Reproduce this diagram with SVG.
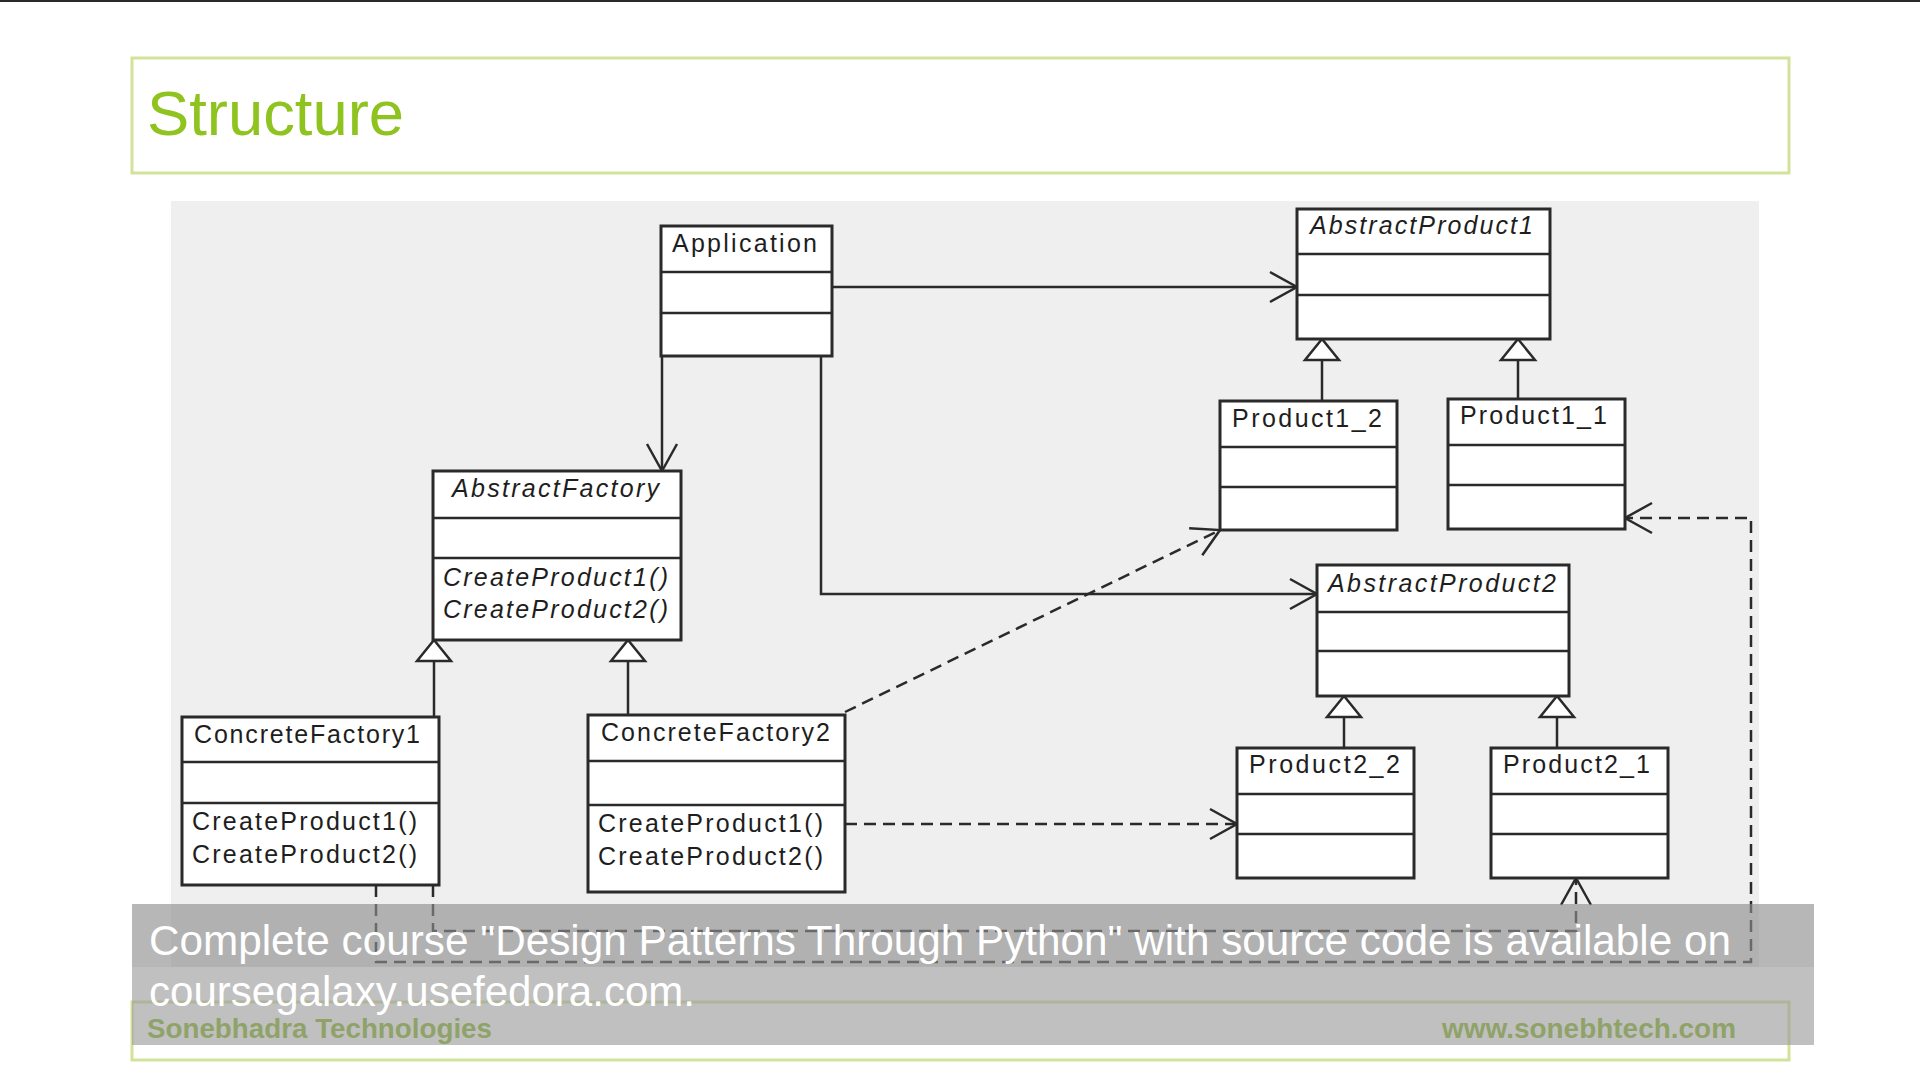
<svg xmlns="http://www.w3.org/2000/svg" width="1920" height="1080" viewBox="0 0 1920 1080">
<style>
.box{fill:#ffffff;stroke:#2a2a2a;stroke-width:3}
.div{stroke:#2a2a2a;stroke-width:2.5}
.lbl{font-family:"Liberation Sans",Arial,sans-serif;font-size:25px;fill:#1e1e1e}
.it{font-style:italic}
.con{fill:none;stroke:#2a2a2a;stroke-width:2.5}
.dash{stroke-dasharray:12 7}
.tri{fill:#ffffff;stroke:#2a2a2a;stroke-width:2.5}
.frame{fill:none;stroke:#d3e29a;stroke-width:3}
</style>
<defs>
<marker id="open" markerUnits="userSpaceOnUse" markerWidth="40" markerHeight="40" viewBox="-32 -20 36 40" refX="0" refY="0" orient="auto">
<path d="M-27,-15 L0,0 L-27,15" fill="none" stroke="#2a2a2a" stroke-width="2.5"/>
</marker>
</defs>
<rect x="0" y="0" width="1920" height="1080" fill="#ffffff"/>
<rect x="0" y="0" width="1920" height="2" fill="#2a2a2a"/>
<g id="title">
<rect class="frame" x="132" y="58" width="1657" height="115"/>
<text x="147" y="135" font-family="Liberation Sans,Arial,sans-serif" font-size="63" fill="#8fc31f" textLength="257" lengthAdjust="spacingAndGlyphs">Structure</text>
</g>
<rect id="diagram-bg" x="171" y="201" width="1588" height="766" fill="#efeff0"/>
<g id="connectors">
<path class="con" d="M832,287 L1297,287" marker-end="url(#open)"/>
<path class="con" d="M662,356 L662,471" marker-end="url(#open)"/>
<path class="con" d="M821,356 L821,594 L1317,594" marker-end="url(#open)"/>
<path class="con" d="M434,717 L434,661"/>
<polygon class="tri" points="434,640 417,661 451,661"/>
<path class="con" d="M628,715 L628,661"/>
<polygon class="tri" points="628,640 611,661 645,661"/>
<path class="con" d="M1322,401 L1322,360"/>
<polygon class="tri" points="1322,339 1305,360 1339,360"/>
<path class="con" d="M1518,399 L1518,360"/>
<polygon class="tri" points="1518,339 1501,360 1535,360"/>
<path class="con" d="M1344,748 L1344,717"/>
<polygon class="tri" points="1344,696 1327,717 1361,717"/>
<path class="con" d="M1557,748 L1557,717"/>
<polygon class="tri" points="1557,696 1540,717 1574,717"/>
<path class="con dash" d="M845,712 L1220,530" marker-end="url(#open)"/>
<path class="con dash" d="M845,824 L1237,824" marker-end="url(#open)"/>
<path class="con dash" d="M376,885 L376,962 L1751,962 L1751,518 L1625,518" marker-end="url(#open)"/>
<path class="con dash" d="M433,885 L433,931 L1576,931 L1576,878" marker-end="url(#open)"/>
</g>
<g id="Application">
<rect class="box" x="661" y="226" width="171" height="130"/>
<line class="div" x1="661" y1="272" x2="832" y2="272"/>
<line class="div" x1="661" y1="313" x2="832" y2="313"/>
<text class="lbl" x="672" y="252" textLength="145" lengthAdjust="spacing">Application</text>
</g>
<g id="AbstractFactory">
<rect class="box" x="433" y="471" width="248" height="169"/>
<line class="div" x1="433" y1="518" x2="681" y2="518"/>
<line class="div" x1="433" y1="558" x2="681" y2="558"/>
<text class="lbl it" x="452" y="497" textLength="207" lengthAdjust="spacing">AbstractFactory</text>
<text class="lbl it" x="443" y="586" textLength="225" lengthAdjust="spacing">CreateProduct1()</text>
<text class="lbl it" x="443" y="618" textLength="225" lengthAdjust="spacing">CreateProduct2()</text>
</g>
<g id="ConcreteFactory1">
<rect class="box" x="182" y="717" width="257" height="168"/>
<line class="div" x1="182" y1="762" x2="439" y2="762"/>
<line class="div" x1="182" y1="803" x2="439" y2="803"/>
<text class="lbl" x="194" y="743" textLength="226" lengthAdjust="spacing">ConcreteFactory1</text>
<text class="lbl" x="192" y="830" textLength="225" lengthAdjust="spacing">CreateProduct1()</text>
<text class="lbl" x="192" y="863" textLength="225" lengthAdjust="spacing">CreateProduct2()</text>
</g>
<g id="ConcreteFactory2">
<rect class="box" x="588" y="715" width="257" height="177"/>
<line class="div" x1="588" y1="761" x2="845" y2="761"/>
<line class="div" x1="588" y1="805" x2="845" y2="805"/>
<text class="lbl" x="601" y="741" textLength="229" lengthAdjust="spacing">ConcreteFactory2</text>
<text class="lbl" x="598" y="832" textLength="225" lengthAdjust="spacing">CreateProduct1()</text>
<text class="lbl" x="598" y="865" textLength="225" lengthAdjust="spacing">CreateProduct2()</text>
</g>
<g id="AbstractProduct1">
<rect class="box" x="1297" y="209" width="253" height="130"/>
<line class="div" x1="1297" y1="254" x2="1550" y2="254"/>
<line class="div" x1="1297" y1="295" x2="1550" y2="295"/>
<text class="lbl it" x="1310" y="234" textLength="223" lengthAdjust="spacing">AbstractProduct1</text>
</g>
<g id="Product1_2">
<rect class="box" x="1220" y="401" width="177" height="129"/>
<line class="div" x1="1220" y1="447" x2="1397" y2="447"/>
<line class="div" x1="1220" y1="487" x2="1397" y2="487"/>
<text class="lbl" x="1232" y="427" textLength="150" lengthAdjust="spacing">Product1_2</text>
</g>
<g id="Product1_1">
<rect class="box" x="1448" y="399" width="177" height="130"/>
<line class="div" x1="1448" y1="445" x2="1625" y2="445"/>
<line class="div" x1="1448" y1="485" x2="1625" y2="485"/>
<text class="lbl" x="1460" y="424" textLength="147" lengthAdjust="spacing">Product1_1</text>
</g>
<g id="AbstractProduct2">
<rect class="box" x="1317" y="565" width="252" height="131"/>
<line class="div" x1="1317" y1="612" x2="1569" y2="612"/>
<line class="div" x1="1317" y1="651" x2="1569" y2="651"/>
<text class="lbl it" x="1328" y="592" textLength="228" lengthAdjust="spacing">AbstractProduct2</text>
</g>
<g id="Product2_2">
<rect class="box" x="1237" y="748" width="177" height="130"/>
<line class="div" x1="1237" y1="794" x2="1414" y2="794"/>
<line class="div" x1="1237" y1="834" x2="1414" y2="834"/>
<text class="lbl" x="1249" y="773" textLength="151" lengthAdjust="spacing">Product2_2</text>
</g>
<g id="Product2_1">
<rect class="box" x="1491" y="748" width="177" height="130"/>
<line class="div" x1="1491" y1="794" x2="1668" y2="794"/>
<line class="div" x1="1491" y1="834" x2="1668" y2="834"/>
<text class="lbl" x="1503" y="773" textLength="147" lengthAdjust="spacing">Product2_1</text>
</g>
<g id="footer">
<rect class="frame" x="132" y="1002" width="1657" height="58"/>
<text x="147" y="1038" font-family="Liberation Sans,Arial,sans-serif" font-size="28" font-weight="bold" fill="#7fb015" textLength="345" lengthAdjust="spacingAndGlyphs">Sonebhadra Technologies</text>
<text x="1442" y="1038" font-family="Liberation Sans,Arial,sans-serif" font-size="28" font-weight="bold" fill="#7fb015" textLength="294" lengthAdjust="spacingAndGlyphs">www.sonebhtech.com</text>
</g>
<g id="caption">
<rect x="132" y="904" width="1682" height="63" fill="#8e8e8e" opacity="0.64"/>
<rect x="132" y="967" width="1682" height="78" fill="#9a9a9a" opacity="0.62"/>
<text x="149" y="955" font-family="Liberation Sans,Arial,sans-serif" font-size="42" fill="#ffffff" textLength="1582" lengthAdjust="spacingAndGlyphs">Complete course "Design Patterns Through Python" with source code is available on</text>
<text x="149" y="1006" font-family="Liberation Sans,Arial,sans-serif" font-size="42" fill="#ffffff" textLength="546" lengthAdjust="spacingAndGlyphs">coursegalaxy.usefedora.com.</text>
</g>
</svg>
